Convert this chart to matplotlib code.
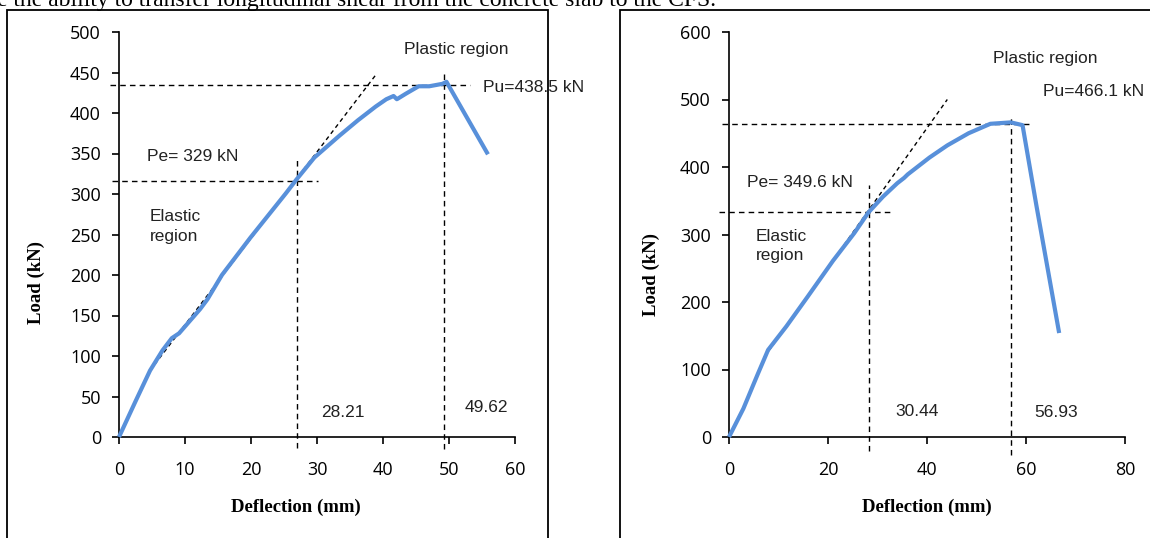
import matplotlib.pyplot as plt
from matplotlib.patches import Rectangle

# Beam 1 load-deflection curve
defl1 = [0, 2.5, 4.7, 6.6, 8.0, 9.1, 12.3, 13.4, 15.6, 19.9, 25.3, 26.9, 29.6, 33.4,
         36.2, 38.9, 40.5, 41.6, 42.1, 43.5, 45.4, 47.0, 49.0, 49.62, 55.9]
load1 = [0, 44, 82, 107, 122, 128, 158, 170, 200, 246, 301, 318, 345, 372,
         391, 408, 417, 421, 417, 424, 433, 433, 436, 438.5, 349]

# Beam 2 load-deflection curve
defl2 = [0, 2.9, 5.8, 7.9, 11.6, 15.9, 21.0, 25.3, 28.2, 31.1, 34.0, 35.4, 36.1,
         40.5, 44.1, 48.4, 52.8, 56.93, 59.3, 62.1, 66.7]
load2 = [0, 42, 93, 129, 164, 208, 261, 302, 333, 356, 376, 384, 389,
         414, 432, 450, 464, 466.1, 462, 343, 154]

# elastic tangent lines (start, end)
tan1_x = [4.7, 38.9]
tan1_y = [82, 447]
tan2_x = [7.1, 44.1]
tan2_y = [118, 500]

# guide lines: Pu level, Pe level, yield and ultimate deflections
pu_lvl = [434, 463.5]
pe_lvl = [316.5, 333.6]
de_x = [27.0, 28.2]
du_x = [49.2, 56.9]

fig = plt.figure(figsize=(11.5, 5.38), dpi=100)
W, H = 1150, 538

# frames around both charts and the cut-off caption line above
fig.patches.append(Rectangle((7 / W, -0.1), (548 - 7) / W, 1.1 - 10 / H,
                             transform=fig.transFigure, fill=False, lw=1.3, ec='black'))
fig.patches.append(Rectangle((620 / W, -0.1), (1170 - 620) / W, 1.1 - 10 / H,
                             transform=fig.transFigure, fill=False, lw=1.3, ec='black'))
fig.text(-3 / W, 1 - 6 / H, 'e the ability to transfer longitudinal shear from the concrete slab to the CFS.',
         family='Liberation Serif', fontsize=17, va='baseline', ha='left')

tick_font = 'Open Sans'
ann_font = 'Liberation Sans'
blue = '#5890DA'


def make_panel(left_px, defl, load, tan_x, tan_y, xmax, xstep, ymax, ystep,
               pu, pe, de, du, texts, hlim_pu, hlim_pe, vlim_du, vlim_de):
    ax = fig.add_axes([left_px / W, (H - 437) / H, 396 / W, 405 / H])
    ax.set_xlim(0, xmax)
    ax.set_ylim(0, ymax)
    ax.set_xticks(range(0, xmax + 1, xstep))
    ax.set_yticks(range(0, ymax + 1, ystep))
    for s in ['top', 'right']:
        ax.spines[s].set_visible(False)
    for s in ['left', 'bottom']:
        ax.spines[s].set_linewidth(1.2)
    ax.tick_params(direction='out', length=5, width=1.2, labelsize=13, pad=12)
    ax.tick_params(axis='y', pad=8)
    for lab in ax.get_xticklabels() + ax.get_yticklabels():
        lab.set_family(tick_font)
    ax.patch.set_alpha(0)

    dash = dict(color='black', lw=1, ls=(0, (4, 3)), clip_on=False)
    ax.plot(hlim_pu, [pu, pu], **dash)
    ax.plot(hlim_pe, [pe, pe], **dash)
    ax.plot([du, du], vlim_du, **dash)
    ax.plot([de, de], vlim_de, **dash)
    ax.plot(tan_x, tan_y, color='black', lw=1, ls=(0, (3, 2.5)))

    ax.plot(defl, load, color=blue, lw=3, solid_capstyle='butt', clip_on=False, zorder=3)

    for x, y, s in texts:
        ax.text(x, y, s, family=ann_font, fontsize=12.5, va='center', ha='left',
                color='#222222', clip_on=False, linespacing=1.4)
    return ax


make_panel(119, defl1, load1, tan1_x, tan1_y, 60, 10, 500, 50,
           pu_lvl[0], pe_lvl[0], de_x[0], du_x[0],
           [(4.2, 346, 'Pe= 329 kN'), (4.7, 260, 'Elastic\nregion'),
            (43.2, 478, 'Plastic region'), (55.1, 432, 'Pu=438.5 kN'),
            (30.6, 30, '28.21'), (52.4, 37, '49.62')],
           [-1.4, 53.2], [-1.1, 30.1], [-15, 448], [-13, 342])

make_panel(729, defl2, load2, tan2_x, tan2_y, 80, 20, 600, 100,
           pu_lvl[1], pe_lvl[1], de_x[1], du_x[1],
           [(3.6, 377, 'Pe= 349.6 kN'), (5.4, 283, 'Elastic\nregion'),
            (53.3, 561, 'Plastic region'), (63.4, 512, 'Pu=466.1 kN'),
            (33.6, 38, '30.44'), (61.6, 36, '56.93')],
           [-1.4, 60.6], [-2, 32.9], [-26, 475], [-21, 373])

# axis titles
for xc, yc in [(36, 282), (651, 275)]:
    fig.text(xc / W, 1 - yc / H, 'Load (kN)', family='Liberation Serif', weight='bold',
             fontsize=13.5, rotation=90, ha='center', va='center')
for xc in [296, 927]:
    fig.text(xc / W, 1 - 507 / H, 'Deflection (mm)', family='Liberation Serif', weight='bold',
             fontsize=13.5, ha='center', va='center')

plt.savefig('out.png', dpi=100)
